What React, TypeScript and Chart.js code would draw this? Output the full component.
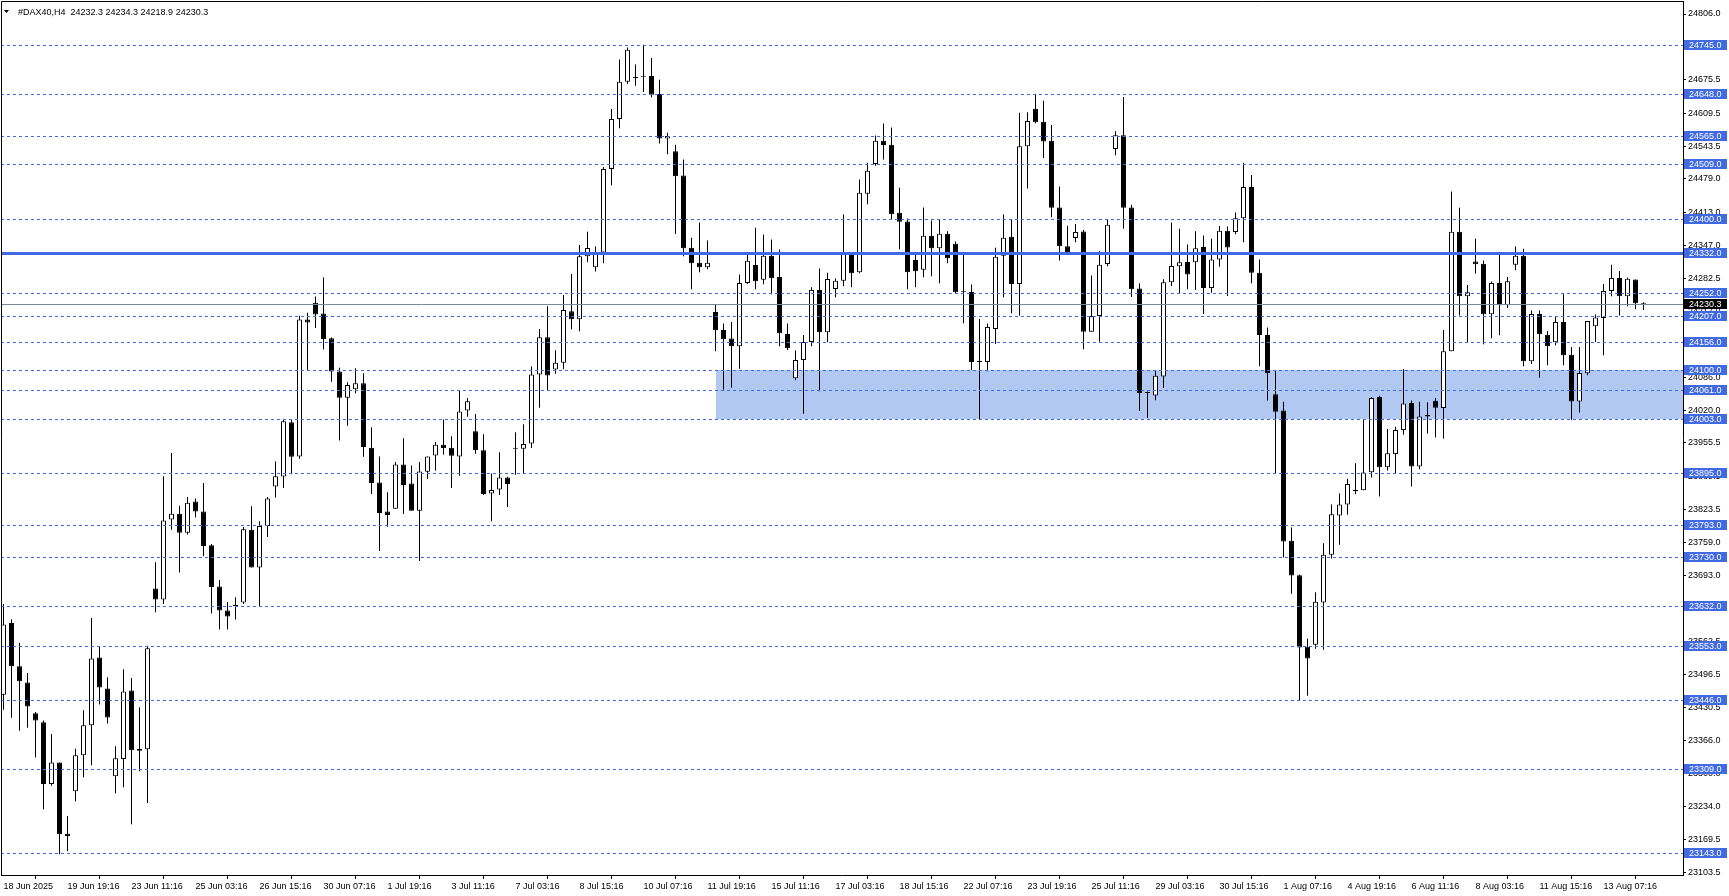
import React, { useEffect, useRef } from "react";
import { Chart, registerables } from "chart.js";

Chart.register(...registerables);

const FONT = "'Liberation Sans', Arial, sans-serif";
const FONT_SIZE = 9;
const LEVEL_BLUE = "#4169E1";
const ZONE_BLUE = "#B0C8F2";
const LAST_LINE = "#778899";

const titleText = "#DAX40,H4  24232.3 24234.3 24218.9 24230.3";

const xTickLabels = [
  "18 Jun 2025", "19 Jun 19:16", "23 Jun 11:16", "25 Jun 03:16", "26 Jun 15:16",
  "30 Jun 07:16", "1 Jul 19:16", "3 Jul 11:16", "7 Jul 03:16", "8 Jul 15:16",
  "10 Jul 07:16", "11 Jul 19:16", "15 Jul 11:16", "17 Jul 03:16", "18 Jul 15:16",
  "22 Jul 07:16", "23 Jul 19:16", "25 Jul 11:16", "29 Jul 03:16", "30 Jul 15:16",
  "1 Aug 07:16", "4 Aug 19:16", "6 Aug 11:16", "8 Aug 03:16", "11 Aug 15:16",
  "13 Aug 07:16",
];
const barsPerXTick = 8;

const yTickValues = [
  24806.0, 24740.5, 24675.5, 24609.5, 24543.5, 24479.0, 24413.0, 24347.0, 24282.5,
  24217.0, 24151.5, 24086.0, 24020.0, 23955.5, 23889.5, 23823.5, 23759.0, 23693.0,
  23627.5, 23562.5, 23496.5, 23430.5, 23366.0, 23300.0, 23234.0, 23169.5, 23103.5,
];

const dashedLevels = [
  24745.0, 24648.0, 24565.0, 24509.0, 24400.0, 24252.0, 24207.0, 24156.0, 24100.0,
  24061.0, 24003.0, 23895.0, 23793.0, 23730.0, 23632.0, 23553.0, 23446.0, 23309.0, 23143.0,
];
const mainLevel = 24332.0;
const lastPrice = 24230.3;
const zoneHigh = 24100.0;
const zoneLow = 24003.0;
const zoneFromBar = 89;

const priceMin = 23098.9;
const priceMax = 24831.8;
const barMin = -0.3125;
const barMax = 209.9375;

const opens = [
  23456.5, 23598.7, 23512.9, 23480.6, 23419.7, 23401.7, 23279.1, 23322.0, 23180.6, 23264.8,
  23336.2, 23395.6, 23530.2, 23468.6, 23294.9, 23328.7, 23464.8, 23349.0, 23348.3, 23667.1,
  23645.3, 23803.9, 23815.2, 23777.6, 23839.3, 23819.7, 23752.8, 23670.8, 23623.5, 23634.7,
  23639.3, 23783.6, 23708.4, 23791.1, 23869.3, 23888.9, 23996.4, 23928.7, 24200.2, 24233.3,
  24212.2, 24163.3, 24097.2, 24045.3, 24061.9, 24073.9, 23946.2, 23877.0, 23819.8, 23825.1,
  23912.9, 23875.0, 23821.1, 23898.3, 23930.9, 23952.2, 23946.2, 23928.9, 24020.0, 23978.8,
  23940.9, 23855.1, 23863.0, 23887.0, 23946.2, 23944.2, 23954.2, 24091.2, 24165.0, 24101.1,
  24114.4, 24216.9, 24200.9, 24325.9, 24304.0, 24333.3, 24498.9, 24598.0, 24671.8, 24681.1,
  24683.1, 24683.1, 24647.2, 24559.4, 24534.1, 24485.9, 24342.4, 24312.6, 24304.0, 24215.4,
  24179.6, 24162.4, 24147.2, 24272.9, 24308.6, 24278.9, 24326.5, 24284.8, 24171.7, 24083.7,
  24120.1, 24155.8, 24259.0, 24175.0, 24261.0, 24276.9, 24332.4, 24294.1, 24449.5, 24508.4,
  24554.7, 24546.8, 24411.8, 24394.6, 24318.5, 24298.7, 24366.2, 24341.7, 24370.1, 24350.3,
  24255.0, 24255.0, 24116.8, 24116.1, 24181.6, 24326.5, 24364.2, 24270.5, 24543.8, 24618.2,
  24592.4, 24554.8, 24422.4, 24345.7, 24362.1, 24374.7, 24175.8, 24207.1, 24310.5, 24538.3,
  24565.7, 24422.4, 24261.9, 24055.9, 24049.7, 24087.3, 24274.4, 24305.8, 24314.4, 24313.6,
  24344.1, 24262.7, 24319.1, 24376.2, 24373.9, 24401.3, 24463.2, 24293.2, 24169.5, 24052.0,
  24019.9, 23761.5, 23693.4, 23551.6, 23555.5, 23639.3, 23734.1, 23811.6, 23833.5, 23862.5,
  23861.9, 23897.6, 24046.5, 23907.5, 23933.4, 23981.0, 24034.6, 23908.9, 24010.8, 24039.3,
  24024.7, 24137.2, 24374.2, 24246.4, 24315.3, 24310.6, 24210.7, 24272.9, 24228.6, 24308.7,
  24326.5, 24117.4, 24211.4, 24170.3, 24155.1, 24195.5, 24130.6, 24037.9, 24093.5, 24186.9,
  24203.4, 24257.0, 24282.8, 24246.4, 24279.5, 24232.3,
];

const highs = [
  23636.3, 23606.2, 23559.6, 23499.4, 23422.0, 23405.4, 23378.4, 23322.0, 23215.9, 23349.0,
  23425.7, 23608.4, 23552.0, 23491.1, 23354.3, 23506.9, 23489.6, 23431.7, 23553.5, 23719.0,
  23889.6, 23935.5, 23831.0, 23848.3, 23845.3, 23876.1, 23755.1, 23683.6, 23640.0, 23649.8,
  23788.9, 23830.2, 23800.2, 23848.3, 23919.0, 24000.9, 24000.9, 24207.7, 24213.7, 24246.0,
  24283.6, 24164.8, 24104.7, 24075.9, 24103.8, 24093.8, 23986.7, 23928.9, 23857.7, 23917.6,
  23964.8, 23910.9, 23917.6, 23928.9, 23957.5, 24002.0, 23968.8, 24059.2, 24044.6, 24012.7,
  23972.8, 23895.0, 23936.9, 23888.3, 23976.8, 23992.7, 24107.1, 24181.6, 24226.8, 24139.1,
  24248.8, 24290.7, 24347.9, 24374.5, 24345.2, 24502.9, 24617.9, 24715.7, 24739.6, 24705.7,
  24745.0, 24719.0, 24675.8, 24570.7, 24546.8, 24517.7, 24362.2, 24392.6, 24356.9, 24229.9,
  24192.2, 24195.5, 24289.4, 24331.1, 24382.1, 24368.8, 24358.9, 24339.1, 24192.2, 24138.6,
  24169.7, 24264.3, 24301.4, 24292.8, 24281.5, 24408.5, 24332.4, 24478.0, 24511.0, 24565.3,
  24589.1, 24581.2, 24461.4, 24400.6, 24332.4, 24422.4, 24396.6, 24399.3, 24375.4, 24354.9,
  24329.1, 24269.6, 24201.5, 24192.2, 24342.4, 24408.5, 24399.3, 24610.4, 24611.2, 24648.0,
  24633.9, 24586.1, 24463.9, 24386.4, 24389.5, 24377.8, 24287.7, 24336.3, 24399.7, 24573.6,
  24641.7, 24427.9, 24272.1, 24057.5, 24098.2, 24279.9, 24392.7, 24380.1, 24348.8, 24375.5,
  24366.8, 24360.6, 24385.6, 24384.8, 24412.3, 24510.9, 24486.6, 24319.1, 24184.4, 24099.8,
  24037.2, 23788.1, 23694.9, 23567.3, 23659.7, 23756.8, 23833.5, 23855.5, 23884.4, 23915.5,
  24002.9, 24046.5, 24049.2, 23983.0, 23987.6, 24102.1, 24039.9, 24037.3, 24036.0, 24044.6,
  24179.6, 24454.3, 24421.8, 24268.9, 24360.3, 24317.3, 24275.6, 24328.5, 24284.8, 24345.1,
  24340.4, 24218.0, 24218.0, 24177.6, 24206.1, 24252.4, 24145.8, 24145.8, 24197.5, 24210.0,
  24270.9, 24308.7, 24296.7, 24283.5, 24279.5, 24234.3,
];

const lows = [
  23426.5, 23410.7, 23385.1, 23391.1, 23331.7, 23229.5, 23276.1, 23140.0, 23146.0, 23245.3,
  23292.6, 23316.7, 23437.0, 23399.4, 23261.1, 23273.1, 23199.4, 23304.7, 23241.5, 23619.7,
  23636.3, 23783.6, 23698.7, 23773.9, 23807.7, 23731.0, 23617.5, 23585.9, 23585.9, 23605.4,
  23636.3, 23708.4, 23632.5, 23769.3, 23847.5, 23866.3, 23893.4, 23924.2, 24099.4, 24183.6,
  24140.8, 24076.9, 23960.3, 23989.4, 24053.9, 23928.2, 23854.4, 23741.3, 23789.2, 23825.1,
  23814.5, 23821.1, 23721.4, 23884.3, 23900.3, 23932.2, 23866.4, 23890.3, 24007.4, 23934.2,
  23852.4, 23800.5, 23852.4, 23828.5, 23892.3, 23895.0, 23945.5, 24025.3, 24059.2, 24092.5,
  24101.8, 24181.0, 24177.0, 24314.0, 24295.4, 24312.0, 24466.3, 24579.3, 24667.1, 24663.8,
  24651.2, 24641.2, 24549.4, 24528.1, 24369.8, 24325.8, 24260.3, 24294.1, 24300.0, 24137.3,
  24061.2, 24065.2, 24102.9, 24270.9, 24260.3, 24270.3, 24249.8, 24147.2, 24139.9, 24079.8,
  24013.6, 24147.2, 24057.9, 24155.2, 24244.5, 24266.3, 24264.3, 24292.1, 24429.0, 24505.1,
  24517.7, 24399.3, 24339.7, 24260.3, 24264.3, 24284.2, 24286.1, 24272.2, 24311.9, 24252.4,
  24192.9, 24100.3, 24003.0, 24097.6, 24151.9, 24244.5, 24212.7, 24207.9, 24460.0, 24589.2,
  24520.3, 24402.9, 24317.5, 24332.4, 24353.5, 24141.3, 24175.8, 24156.2, 24305.8, 24525.8,
  24380.1, 24244.7, 24019.1, 24005.0, 24040.3, 24064.6, 24266.6, 24250.9, 24260.3, 24258.8,
  24211.0, 24253.3, 24305.0, 24247.0, 24369.2, 24353.5, 24272.1, 24107.6, 24039.5, 23894.6,
  23728.6, 23656.6, 23445.9, 23454.5, 23547.7, 23545.4, 23726.3, 23753.7, 23813.2, 23853.9,
  23861.9, 23887.0, 23849.3, 23900.9, 23895.6, 23971.7, 23869.1, 23903.6, 23974.4, 23966.5,
  23963.8, 24137.2, 24208.0, 24155.1, 24291.4, 24151.1, 24163.0, 24169.0, 24223.3, 24298.1,
  24107.4, 24112.1, 24084.9, 24109.4, 24149.1, 24109.4, 24000.9, 24016.1, 24089.6, 24155.8,
  24129.3, 24246.4, 24208.0, 24226.6, 24220.6, 24218.9,
];

const closes = [
  23595.7, 23512.9, 23482.9, 23433.2, 23405.4, 23279.1, 23322.0, 23179.8, 23176.1, 23336.2,
  23395.6, 23528.0, 23470.8, 23411.4, 23330.2, 23462.6, 23346.0, 23345.3, 23548.3, 23645.3,
  23801.7, 23815.2, 23777.6, 23837.0, 23819.7, 23751.3, 23670.1, 23623.5, 23611.4, 23632.5,
  23784.4, 23708.4, 23791.1, 23845.3, 23889.6, 23998.7, 23928.0, 24200.2, 24194.2, 24210.0,
  24161.8, 24097.2, 24045.3, 24070.5, 24073.9, 23947.5, 23876.3, 23816.5, 23812.5, 23912.9,
  23872.3, 23821.1, 23899.0, 23928.9, 23952.2, 23945.5, 23930.2, 24018.0, 24038.0, 23941.5,
  23854.4, 23862.4, 23887.0, 23874.3, 23944.2, 23953.5, 24091.2, 24165.0, 24089.2, 24114.4,
  24218.9, 24200.9, 24325.9, 24341.9, 24331.9, 24498.9, 24598.0, 24671.8, 24735.0, 24679.1,
  24681.8, 24645.9, 24559.4, 24564.1, 24484.2, 24341.7, 24311.9, 24304.0, 24312.6, 24179.0,
  24161.1, 24147.2, 24272.9, 24316.6, 24276.2, 24326.5, 24282.2, 24173.0, 24143.3, 24120.1,
  24155.8, 24259.0, 24175.0, 24280.8, 24276.9, 24332.4, 24292.1, 24451.5, 24495.2, 24554.7,
  24546.1, 24409.2, 24394.0, 24294.1, 24296.1, 24366.2, 24341.7, 24370.1, 24321.9, 24254.4,
  24254.4, 24116.1, 24116.1, 24185.6, 24324.5, 24362.2, 24270.5, 24543.8, 24593.9, 24591.6,
  24553.2, 24421.7, 24345.7, 24332.4, 24373.9, 24175.8, 24207.1, 24308.9, 24388.0, 24565.7,
  24421.7, 24260.3, 24054.4, 24054.4, 24088.8, 24274.4, 24306.5, 24313.6, 24289.3, 24341.8,
  24262.7, 24319.1, 24376.2, 24343.3, 24401.3, 24463.2, 24293.2, 24169.5, 24093.5, 24017.6,
  23759.9, 23692.6, 23550.1, 23528.1, 23640.9, 23734.1, 23814.0, 23833.5, 23874.3, 23859.9,
  23896.9, 24044.6, 23907.5, 23935.3, 23981.0, 24034.0, 23908.9, 24008.1, 24008.1, 24025.4,
  24137.2, 24374.2, 24246.4, 24254.4, 24310.0, 24210.7, 24272.9, 24228.6, 24276.2, 24326.5,
  24117.4, 24211.4, 24171.0, 24147.1, 24195.5, 24129.3, 24037.9, 24094.2, 24197.5, 24204.1,
  24257.0, 24282.8, 24246.4, 24280.9, 24232.5, 24230.3,
];

const mt4Overlay = {
  id: "mt4Overlay",
  beforeDatasetsDraw(chart: any) {
    const { ctx, chartArea: a, scales } = chart;
    const xs = scales.x;
    const ys = scales.y;
    const x0 = Math.round(xs.getPixelForValue(zoneFromBar));
    const yTop = Math.round(ys.getPixelForValue(zoneHigh));
    const yBot = Math.round(ys.getPixelForValue(zoneLow));
    ctx.save();
    ctx.fillStyle = ZONE_BLUE;
    ctx.fillRect(x0, yTop, a.right - x0, yBot - yTop);
    ctx.restore();
  },
  afterDatasetsDraw(chart: any) {
    const { ctx, chartArea: a, scales } = chart;
    const ys = scales.y;
    ctx.save();
    ctx.beginPath();
    ctx.rect(a.left, a.top, a.right - a.left, a.bottom - a.top);
    ctx.clip();
    ctx.lineWidth = 1;
    ctx.strokeStyle = LEVEL_BLUE;
    ctx.setLineDash([3, 3]);
    for (const v of dashedLevels) {
      const y = Math.round(ys.getPixelForValue(v)) + 0.5;
      ctx.beginPath();
      ctx.moveTo(a.left, y);
      ctx.lineTo(a.right, y);
      ctx.stroke();
    }
    ctx.setLineDash([]);
    ctx.strokeStyle = LAST_LINE;
    const yl = Math.round(ys.getPixelForValue(lastPrice)) + 0.5;
    ctx.beginPath();
    ctx.moveTo(a.left, yl);
    ctx.lineTo(a.right, yl);
    ctx.stroke();
    ctx.strokeStyle = LEVEL_BLUE;
    ctx.lineWidth = 3;
    const ym = Math.round(ys.getPixelForValue(mainLevel)) + 0.5;
    ctx.beginPath();
    ctx.moveTo(a.left, ym);
    ctx.lineTo(a.right, ym);
    ctx.stroke();
    ctx.restore();
  },
  afterDraw(chart: any) {
    const { ctx, chartArea: a, scales } = chart;
    const ys = scales.y;
    ctx.save();
    ctx.strokeStyle = "#000";
    ctx.lineWidth = 1;
    ctx.beginPath();
    ctx.moveTo(a.left + 0.5, a.bottom);
    ctx.lineTo(a.left + 0.5, a.top + 0.5);
    ctx.lineTo(a.right, a.top + 0.5);
    ctx.stroke();
    ctx.font = FONT_SIZE + "px " + FONT;
    ctx.textBaseline = "middle";
    ctx.textAlign = "left";
    const boxLabel = (v: number, bg: string) => {
      const y = Math.round(ys.getPixelForValue(v));
      ctx.fillStyle = bg;
      ctx.fillRect(a.right + 1, y - 5, 43, 10);
      ctx.fillStyle = "#fff";
      ctx.fillText(v.toFixed(1), a.right + 6, y + 0.5);
    };
    for (const v of dashedLevels) boxLabel(v, LEVEL_BLUE);
    boxLabel(mainLevel, LEVEL_BLUE);
    boxLabel(lastPrice, "#000");
    ctx.fillStyle = "#000";
    ctx.beginPath();
    ctx.moveTo(4, 10);
    ctx.lineTo(9, 10);
    ctx.lineTo(6.5, 13);
    ctx.closePath();
    ctx.fill();
    ctx.font = FONT_SIZE + "px " + FONT;
    ctx.textBaseline = "alphabetic";
    ctx.fillText(titleText, 18, 15);
    ctx.restore();
  },
};

export default function App() {
  const canvasRef = useRef<HTMLCanvasElement | null>(null);

  useEffect(() => {
    const canvas = canvasRef.current;
    if (!canvas) return;
    const bodyData = opens.map((o, i) => ({ x: i, y: [Math.min(o, closes[i]), Math.max(o, closes[i])] }));
    const wickData = lows.map((l, i) => ({ x: i, y: [l, highs[i]] }));
    const bodyFill = opens.map((o, i) => (closes[i] > o ? "#ffffff" : "#000000"));

    const chart = new Chart(canvas, {
      type: "bar",
      data: {
        datasets: [
          {
            label: "body",
            data: bodyData as any,
            backgroundColor: bodyFill,
            borderColor: "#000",
            borderWidth: 1,
            borderSkipped: false,
            barThickness: 5,
            minBarLength: 1,
            grouped: false,
            inflateAmount: 0,
            order: 0,
          } as any,
          {
            label: "wick",
            data: wickData as any,
            backgroundColor: "#000",
            borderWidth: 0,
            barThickness: 1,
            minBarLength: 1,
            grouped: false,
            inflateAmount: 0,
            order: 1,
          } as any,
        ],
      },
      options: {
        responsive: false,
        animation: false,
        devicePixelRatio: 1,
        layout: { padding: { left: 1, top: 1, right: 0, bottom: 0 } },
        plugins: { legend: { display: false }, tooltip: { enabled: false }, title: { display: false } },
        scales: {
          x: {
            type: "linear",
            offset: false,
            min: barMin,
            max: barMax,
            position: "bottom",
            border: { display: true, color: "#000", width: 1 },
            grid: { display: true, drawOnChartArea: false, drawTicks: true, tickLength: 4, color: "#000" },
            ticks: {
              autoSkip: false,
              maxRotation: 0,
              minRotation: 0,
              align: "start",
              padding: 2,
              color: "#000",
              font: { family: FONT, size: FONT_SIZE },
              callback: (v: any) => xTickLabels[Math.round(Number(v) / barsPerXTick)] ?? "",
            },
            afterBuildTicks: (scale: any) => {
              scale.ticks = xTickLabels.map((_, k) => ({ value: k * barsPerXTick }));
            },
            afterFit: (scale: any) => {
              scale.height = 21;
              scale.paddingLeft = 0;
              scale.paddingRight = 0;
            },
          } as any,
          y: {
            type: "linear",
            position: "right",
            min: priceMin,
            max: priceMax,
            border: { display: true, color: "#000", width: 1 },
            grid: { display: true, drawOnChartArea: false, drawTicks: true, tickLength: 3, color: "#000" },
            ticks: {
              padding: 2,
              color: "#000",
              font: { family: FONT, size: FONT_SIZE },
              callback: (v: any) => Number(v).toFixed(1),
            },
            afterBuildTicks: (scale: any) => {
              scale.ticks = yTickValues.map((v) => ({ value: v }));
            },
            afterFit: (scale: any) => {
              scale.width = 46;
              scale.paddingTop = 0;
              scale.paddingBottom = 0;
            },
          } as any,
        },
      },
      plugins: [mt4Overlay],
    });

    return () => chart.destroy();
  }, []);

  return (
    <div style={{ position: "fixed", left: 0, top: 0, width: 1729, height: 896, background: "#fff" }}>
      <canvas ref={canvasRef} width={1729} height={896} style={{ display: "block" }} />
    </div>
  );
}
